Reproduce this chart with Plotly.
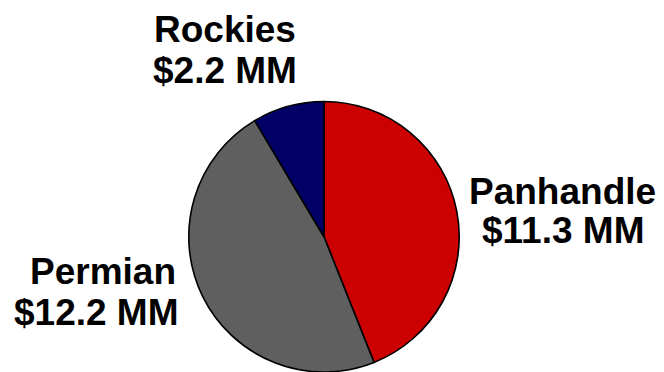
import plotly.graph_objects as go

regions = ["Panhandle", "Permian", "Rockies"]
values_mm = [11.3, 12.2, 2.2]
colors = ["#CC0000", "#5F5F5F", "#000066"]

W, H = 664, 372

fig = go.Figure(go.Pie(
    labels=regions,
    values=values_mm,
    sort=False,
    direction="clockwise",
    rotation=0,
    textinfo="none",
    hoverinfo="label+value",
    marker=dict(colors=colors, line=dict(color="#000000", width=1.6)),
    domain=dict(x=[188 / W, 460 / W], y=[0.0, 0.727]),
    showlegend=False,
))

# label positions (pixel centres of each text line) and alignment
label_pos = {
    "Rockies": ((225, 29), (225, 70), "center"),
    "Panhandle": ((562, 191), (563, 230), "center"),
    "Permian": ((178, 271), (181, 312), "right"),
}

font = dict(family="Liberation Sans, Arial, sans-serif", size=37, color="#000000")
annotations = []
for name, val in zip(regions, values_mm):
    (x1, y1), (x2, y2), align = label_pos[name]
    for text, (px, py) in ((f"<b>{name}</b>", (x1, y1)), (f"<b>${val:.1f} MM</b>", (x2, y2))):
        annotations.append(dict(
            text=text, x=px / W, y=1 - py / H, xref="paper", yref="paper",
            xanchor=align, yanchor="middle", showarrow=False, font=font,
        ))

fig.update_layout(
    width=W, height=H,
    margin=dict(l=0, r=0, t=0, b=0),
    paper_bgcolor="#FFFFFF",
    plot_bgcolor="#FFFFFF",
    annotations=annotations,
)

fig.write_html("out.html")
